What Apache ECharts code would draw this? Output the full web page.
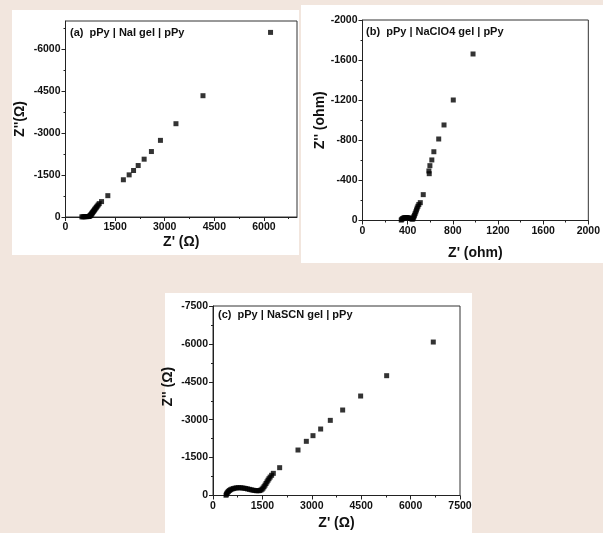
<!DOCTYPE html>
<html>
<head>
<meta charset="utf-8">
<script src="https://cdn.jsdelivr.net/npm/echarts@6/dist/echarts.min.js"></script>
<style>
html,body{margin:0;padding:0;background:#f2e6de;}
#c{width:603px;height:533px;}
</style>
</head>
<body>
<div id="c"></div>
<script>
// ---------- Panel (a): pPy | NaI gel | pPy ----------
const titleA = '(a)  pPy | NaI gel | pPy';
const zReA = [495,530,565,600,635,670,700,725,745,760,775,790,805,822,840,858,876,895,915,938,962,990,1020,1090,1280,1750,1925,2058,2198,2378,2598,2871,3340,4157,6200];
const zImA = [-5,-8,-10,-12,-13,-15,-18,-28,-45,-65,-88,-112,-138,-165,-195,-225,-255,-285,-318,-352,-390,-432,-478,-550,-762,-1330,-1505,-1660,-1838,-2065,-2338,-2737,-3332,-4332,-6593];
const xTicksA = [0,1500,3000,4500,6000];
const yTicksA = [-6000,-4500,-3000,-1500,0];
const yMinorA = [-6750,-5250,-3750,-2250,-750];

// ---------- Panel (b): pPy | NaClO4 gel | pPy ----------
const titleB = '(b)  pPy | NaClO4 gel | pPy';
const zReB = [343,348,355,363,372,382,393,404,415,425,434,441,445,450,455,460,466,472,478,484,491,499,512,538,591,588,597,614,632,675,722,804,979];
const zImB = [-4,-12,-19,-24,-28,-30,-30,-28,-24,-20,-17,-16,-15,-25,-38,-52,-68,-86,-105,-124,-142,-160,-178,-258,-467,-494,-547,-604,-686,-813,-953,-1202,-1661];
const xTicksB = [0,400,800,1200,1600,2000];
const yTicksB = [-2000,-1600,-1200,-800,-400,0];

// ---------- Panel (c): pPy | NaSCN gel | pPy ----------
const titleC = '(c)  pPy | NaSCN gel | pPy';
const zReC = [395,410,425,445,470,500,535,575,620,670,720,775,830,885,940,995,1050,1105,1160,1215,1270,1320,1370,1415,1455,1490,1520,1550,1580,1610,1640,1670,1700,1735,1780,1832,2024,2581,2834,3036,3269,3562,3937,4483,5273,6689];
const zImC = [-10,-50,-90,-130,-165,-200,-230,-255,-275,-292,-303,-308,-306,-300,-290,-276,-260,-243,-226,-210,-198,-190,-188,-195,-215,-250,-295,-350,-410,-475,-540,-605,-665,-730,-800,-877,-1101,-1800,-2144,-2368,-2631,-2974,-3383,-3937,-4742,-6074];
const xTicksC = [0,1500,3000,4500,6000,7500];
const yTicksC = [-7500,-6000,-4500,-3000,-1500,0];

const FONT = '"Liberation Sans", Arial, Helvetica, sans-serif';
const INK = '#111';
const LINE = '#222';

function pairs(xs, ys) { return xs.map((x, i) => [x, ys[i]]); }
const fmt = v => String(v);

const panels = [
  {grid:{left:65.5, top:21, width:231.5, height:196}, title:titleA, tl:70, tt:27,
   xr:[0,7000,1500], yr:[-7000,0,1500], xt:xTicksA, yt:yTicksA, xName:"Z' (\u03A9)", yName:"Z''(\u03A9)",
   xGap:18, yGap:38, yPad:0, yMinorBuiltIn:false, data:pairs(zReA, zImA)},
  {grid:{left:362.5, top:20, width:228.5, height:200.5}, title:titleB, tl:366, tt:26,
   xr:[0,2000,400], yr:[-2000,0,400], xt:xTicksB, yt:yTicksB, xName:"Z' (ohm)", yName:"Z'' (ohm)",
   xGap:26, yGap:32, yPad:0, yMinorBuiltIn:true, data:pairs(zReB, zImB)},
  {grid:{left:213, top:306, width:247, height:189.5}, title:titleC, tl:218, tt:309,
   xr:[0,7500,1500], yr:[-7500,0,1500], xt:xTicksC, yt:yTicksC, xName:"Z' (\u03A9)", yName:"Z'' (\u03A9)",
   xGap:21, yGap:38, yPad:28, yMinorBuiltIn:true, data:pairs(zReC, zImC)}
];

const labelStyle = {fontFamily:FONT, fontWeight:'bold', fontSize:10.5, color:INK};
const nameStyle = {fontFamily:FONT, fontWeight:'bold', fontSize:14, color:INK};

const grid = [], xAxis = [], yAxis = [], series = [], title = [];
panels.forEach((p, i) => {
  grid.push(Object.assign({show:true, borderColor:'#333', borderWidth:1, backgroundColor:'transparent'}, p.grid));
  title.push({text:p.title, left:p.tl, top:p.tt, padding:0,
    textStyle:{fontFamily:FONT, fontWeight:'bold', fontSize:11, color:INK}});
  xAxis.push({
    type:'value', gridIndex:i, position:'bottom', min:p.xr[0], max:p.xr[1], interval:p.xr[2],
    name:p.xName, nameLocation:'middle', nameGap:p.xGap, nameTextStyle:nameStyle,
    axisLine:{show:true, onZero:false, lineStyle:{color:LINE, width:1}},
    axisTick:{show:true, inside:false, length:4, customValues:p.xt, lineStyle:{color:LINE}},
    minorTick:{show:true, splitNumber:2, length:2, lineStyle:{color:LINE}},
    axisLabel:{customValues:p.xt, margin:5, formatter:fmt, ...labelStyle},
    splitLine:{show:false}, minorSplitLine:{show:false}
  });
  yAxis.push({
    type:'value', gridIndex:i, position:'left', inverse:true, min:p.yr[0], max:p.yr[1], interval:p.yr[2],
    name:p.yName, nameLocation:'middle', nameGap:p.yGap,
    nameTextStyle:Object.assign({padding:[0,0,0,p.yPad]}, nameStyle),
    axisLine:{show:true, onZero:false, lineStyle:{color:LINE, width:1}},
    axisTick:{show:true, inside:false, length:4, customValues:p.yt, lineStyle:{color:LINE}},
    minorTick:{show:p.yMinorBuiltIn, splitNumber:2, length:2, lineStyle:{color:LINE}},
    axisLabel:{customValues:p.yt, margin:5, formatter:fmt, ...labelStyle},
    splitLine:{show:false}, minorSplitLine:{show:false}
  });
  series.push({
    type:'scatter', xAxisIndex:i, yAxisIndex:i, symbol:'rect', symbolSize:5,
    itemStyle:{color:'#000'}, data:p.data, animation:false, silent:true
  });
});
// minor ticks for panel (a) y axis (range does not start on a major tick)
yAxis.push({
  type:'value', gridIndex:0, position:'left', inverse:true, min:-7000, max:0,
  axisLine:{show:false}, axisLabel:{show:false}, splitLine:{show:false},
  axisTick:{show:true, inside:false, length:2, customValues:yMinorA, lineStyle:{color:LINE}}
});

const chart = echarts.init(document.getElementById('c'), null, {renderer:'canvas'});
chart.setOption({
  backgroundColor:'#f2e6de',
  animation:false,
  graphic:{elements:[
    {type:'rect', z:-100, shape:{x:12, y:10, width:287, height:245}, style:{fill:'#ffffff'}},
    {type:'rect', z:-100, shape:{x:301, y:5, width:302, height:258}, style:{fill:'#ffffff'}},
    {type:'rect', z:-100, shape:{x:165, y:293, width:307, height:240}, style:{fill:'#ffffff'}}
  ]},
  title, grid, xAxis, yAxis, series
});
</script>
</body>
</html>
